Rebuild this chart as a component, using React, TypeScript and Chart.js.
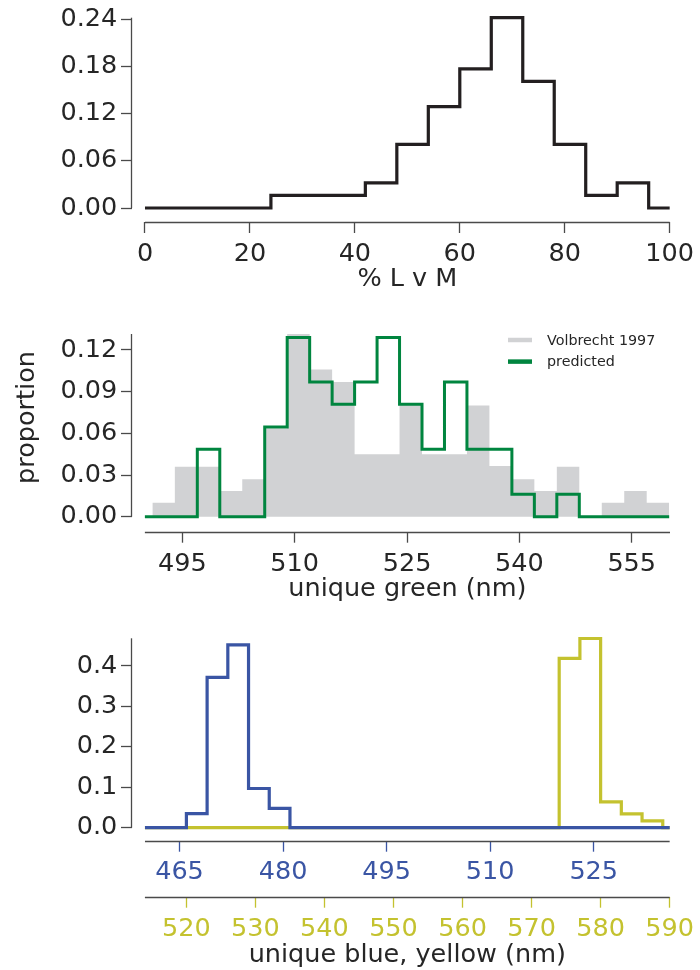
import React, { useEffect, useRef } from 'react';
import { Chart, registerables } from 'chart.js';

Chart.register(...registerables);

const FONT = "'DejaVu Sans', 'Liberation Sans', sans-serif";
const FS = 25.5;
const TEXT = '#262626';
const SPINE = '#4a4a4a';
const BLACK = '#231f20';
const GREEN = '#00853f';
const GRAY = '#d1d2d4';
const BLUE = '#3a55a4';
const YELLOW = '#c4c22f';

// ---------- Panel 1: % L v M ----------
const lvmEdges = [0, 6, 12, 18, 24, 30, 36, 42, 48, 54, 60, 66, 72, 78, 84, 90, 96, 100];
const lvmValues = [0, 0, 0, 0, 0.016, 0.016, 0.016, 0.032, 0.081, 0.129, 0.177, 0.242, 0.161, 0.081, 0.016, 0.032, 0];
const lvmTicksX = [0, 20, 40, 60, 80, 100];
const lvmTicksY = [0, 0.06, 0.12, 0.18, 0.24];

// ---------- Panel 2: unique green ----------
const volbrechtEdges = [491, 494, 497, 500, 503, 506, 509, 512, 515, 518, 521, 524, 527, 530, 533, 536, 539, 542, 545, 548, 551, 554, 557, 560];
const volbrechtValues = [0.010, 0.036, 0.036, 0.0185, 0.027, 0.0635, 0.133, 0.106, 0.097, 0.045, 0.045, 0.081, 0.045, 0.045, 0.080, 0.0365, 0.027, 0.0185, 0.036, 0, 0.010, 0.0185, 0.010];
const predictedEdges = [490, 497, 500, 506, 509, 512, 515, 518, 521, 524, 527, 530, 533, 539, 542, 545, 548, 560];
const predictedValues = [0, 0.0486, 0, 0.0645, 0.129, 0.097, 0.081, 0.097, 0.129, 0.081, 0.0486, 0.097, 0.0486, 0.0162, 0, 0.0162, 0];
const greenTicksX = [495, 510, 525, 540, 555];
const greenTicksY = [0, 0.03, 0.06, 0.09, 0.12];

// ---------- Panel 3: unique blue / yellow ----------
const blueEdges = [460, 466, 469, 472, 475, 478, 481, 536];
const blueValues = [0, 0.035, 0.372, 0.452, 0.097, 0.048, 0];
const yellowEdges = [514, 574, 577, 580, 583, 586, 589, 590];
const yellowValues = [0, 0.419, 0.468, 0.064, 0.034, 0.017, 0];
const blueTicksX = [465, 480, 495, 510, 525];
const yellowTicksX = [520, 530, 540, 550, 560, 570, 580, 590];
const byTicksY = [0, 0.1, 0.2, 0.3, 0.4];

function stepPoints(edges: number[], values: number[]) {
  return edges.map((x, i) => ({ x, y: values[Math.min(i, values.length - 1)] }));
}

type SpineDef = { id: string; from: number; title?: string; titleOffset?: number };
function spinesPlugin(defs: SpineDef[]) {
  return {
    id: 'spines',
    afterDraw(chart: any) {
      const ctx = chart.ctx;
      ctx.save();
      ctx.strokeStyle = SPINE;
      ctx.lineWidth = 1.3;
      ctx.lineCap = 'butt';
      for (const d of defs) {
        const s = chart.scales[d.id];
        ctx.beginPath();
        if (s.isHorizontal()) {
          const y = Math.round(s.top) + 0.5;
          const x0 = s.getPixelForValue(d.from);
          const x1 = s.getPixelForValue(s.max);
          ctx.moveTo(x0, y);
          ctx.lineTo(x1, y);
          ctx.stroke();
          if (d.title) {
            ctx.save();
            ctx.fillStyle = TEXT;
            ctx.font = `${FS}px ${FONT}`;
            ctx.textAlign = 'center';
            ctx.textBaseline = 'middle';
            ctx.fillText(d.title, (x0 + x1) / 2, s.top + (d.titleOffset ?? 58));
            ctx.restore();
          }
        } else {
          const x = Math.round(s.right) - 0.5;
          ctx.moveTo(x, s.getPixelForValue(d.from));
          ctx.lineTo(x, s.getPixelForValue(s.max));
          ctx.stroke();
        }
      }
      ctx.restore();
    },
  };
}

function xScale(opts: {
  ticks: number[]; min: number; max: number; height: number; color?: string;
  padding?: number; weight?: number;
}) {
  const color = opts.color || TEXT;
  return {
    type: 'linear',
    position: 'bottom',
    weight: opts.weight || 0,
    min: opts.min,
    max: opts.max,
    afterBuildTicks: (s: any) => { s.ticks = opts.ticks.map((v) => ({ value: v })); },
    afterFit: (s: any) => { s.height = opts.height; },
    border: { display: false },
    grid: {
      display: true, drawOnChartArea: false, drawTicks: true, tickLength: 11,
      tickColor: opts.color || SPINE, tickWidth: 1.3, color: opts.color || SPINE,
    },
    ticks: {
      autoSkip: false, maxRotation: 0, minRotation: 0, padding: opts.padding ?? 6,
      color, font: { family: FONT, size: FS },
      callback: (v: any) => String(v),
    },
    title: { display: false },
  };
}

function yScale(opts: { ticks: number[]; min: number; max: number; decimals: number }) {
  return {
    type: 'linear',
    position: 'left',
    min: opts.min,
    max: opts.max,
    afterBuildTicks: (s: any) => { s.ticks = opts.ticks.map((v) => ({ value: v })); },
    afterFit: (s: any) => { s.width = 132; },
    border: { display: false },
    grid: {
      display: true, drawOnChartArea: false, drawTicks: true, tickLength: 11,
      tickColor: SPINE, tickWidth: 1.3, color: SPINE,
    },
    ticks: {
      autoSkip: false, padding: 3.7, color: TEXT,
      font: { family: FONT, size: FS, lineHeight: 1 },
      callback: (v: any) => Number(v).toFixed(opts.decimals),
    },
  };
}

const baseOptions = {
  responsive: false,
  maintainAspectRatio: false,
  animation: false,
  events: [],
  plugins: { legend: { display: false }, tooltip: { enabled: false } },
};

function lineDs(label: string, data: any[], color: string, extra: any = {}) {
  return {
    label,
    data,
    borderColor: color,
    backgroundColor: color,
    borderWidth: 3.2,
    pointRadius: 0,
    stepped: 'before',
    fill: false,
    clip: false,
    borderJoinStyle: 'miter',
    borderCapStyle: 'butt',
    ...extra,
  };
}

function buildChart1() {
  return {
    type: 'line',
    data: { datasets: [lineDs('% L v M', stepPoints(lvmEdges, lvmValues), BLACK)] },
    options: {
      ...baseOptions,
      layout: { padding: { top: 17.7, right: 30, bottom: 0, left: 0 } },
      scales: {
        x: xScale({ ticks: lvmTicksX, min: -2.476, max: 100, height: 78 }),
        y: yScale({ ticks: lvmTicksY, min: -0.0178, max: 0.242, decimals: 2 }),
      },
    },
    plugins: [spinesPlugin([{ id: 'x', from: 0, title: '% L v M', titleOffset: 57 }, { id: 'y', from: 0 }])],
  };
}

function buildChart2() {
  const extras = {
    id: 'extras2',
    afterDraw(chart: any) {
      const ctx = chart.ctx;
      ctx.save();
      ctx.fillStyle = TEXT;
      ctx.font = `${FS}px ${FONT}`;
      ctx.translate(34, 117.5);
      ctx.rotate(-Math.PI / 2);
      ctx.textAlign = 'center';
      ctx.textBaseline = 'alphabetic';
      ctx.fillText('proportion', 0, 0);
      ctx.restore();

      // legend
      const items = [chart.data.datasets[1], chart.data.datasets[0]];
      ctx.save();
      ctx.font = `14.3px ${FONT}`;
      ctx.textBaseline = 'middle';
      ctx.textAlign = 'left';
      items.forEach((ds: any, i: number) => {
        const y = 40 + i * 21.6;
        ctx.strokeStyle = ds.legendColor;
        ctx.lineWidth = 4.5;
        ctx.beginPath();
        ctx.moveTo(508, y);
        ctx.lineTo(532, y);
        ctx.stroke();
        ctx.fillStyle = TEXT;
        ctx.fillText(ds.label, 547, y + 1);
      });
      ctx.restore();
    },
  };
  return {
    type: 'line',
    data: {
      datasets: [
        lineDs('predicted', stepPoints(predictedEdges, predictedValues), GREEN, { order: 0, legendColor: GREEN, borderWidth: 3 }),
        lineDs('Volbrecht 1997', stepPoints(volbrechtEdges, volbrechtValues), GRAY, {
          order: 1, legendColor: GRAY, borderWidth: 0, borderColor: 'rgba(0,0,0,0)', backgroundColor: GRAY, fill: 'origin',
        }),
      ],
    },
    options: {
      ...baseOptions,
      layout: { padding: { top: 34, right: 30, bottom: 0, left: 0 } },
      scales: {
        x: xScale({ ticks: greenTicksX, min: 488.28, max: 560.11, height: 78.3 }),
        y: yScale({ ticks: greenTicksY, min: -0.0108, max: 0.1315, decimals: 2 }),
      },
    },
    plugins: [spinesPlugin([{ id: 'x', from: 490, title: 'unique green (nm)', titleOffset: 58 }, { id: 'y', from: 0 }]), extras],
  };
}

function buildChart3() {
  return {
    type: 'line',
    data: {
      datasets: [
        lineDs('unique blue', stepPoints(blueEdges, blueValues), BLUE, { order: 0, xAxisID: 'xb', yAxisID: 'y' }),
        lineDs('unique yellow', stepPoints(yellowEdges, yellowValues), YELLOW, { order: 1, xAxisID: 'xy', yAxisID: 'y' }),
      ],
    },
    options: {
      ...baseOptions,
      layout: { padding: { top: 28.3, right: 30, bottom: 0, left: 0 } },
      scales: {
        xb: xScale({ ticks: blueTicksX, min: 458.12, max: 536, height: 56, color: BLUE, padding: 5.5, weight: 1 }),
        xy: xScale({ ticks: yellowTicksX, min: 512.13, max: 590, height: 73.3, color: YELLOW, padding: 6, weight: 2 }),
        y: yScale({ ticks: byTicksY, min: -0.03216, max: 0.4685, decimals: 1 }),
      },
    },
    plugins: [spinesPlugin([
      { id: 'xb', from: 460 },
      { id: 'xy', from: 514, title: 'unique blue, yellow (nm)', titleOffset: 58.5 },
      { id: 'y', from: 0 },
    ])],
  };
}

function Panel({ top, height, build }: { top: number; height: number; build: () => any }) {
  const ref = useRef<HTMLCanvasElement>(null);
  useEffect(() => {
    const chart = new Chart(ref.current as HTMLCanvasElement, build());
    return () => chart.destroy();
  }, []);
  return (
    <div style={{ position: 'absolute', left: 0, top, width: 700, height }}>
      <canvas ref={ref} width={700} height={height} style={{ width: 700, height, display: 'block' }} />
    </div>
  );
}

export default function App() {
  return (
    <div style={{ position: 'absolute', left: 0, top: 0, width: 700, height: 970, background: '#fff' }}>
      <Panel top={0} height={300} build={buildChart1} />
      <Panel top={300} height={310} build={buildChart2} />
      <Panel top={610} height={360} build={buildChart3} />
    </div>
  );
}
